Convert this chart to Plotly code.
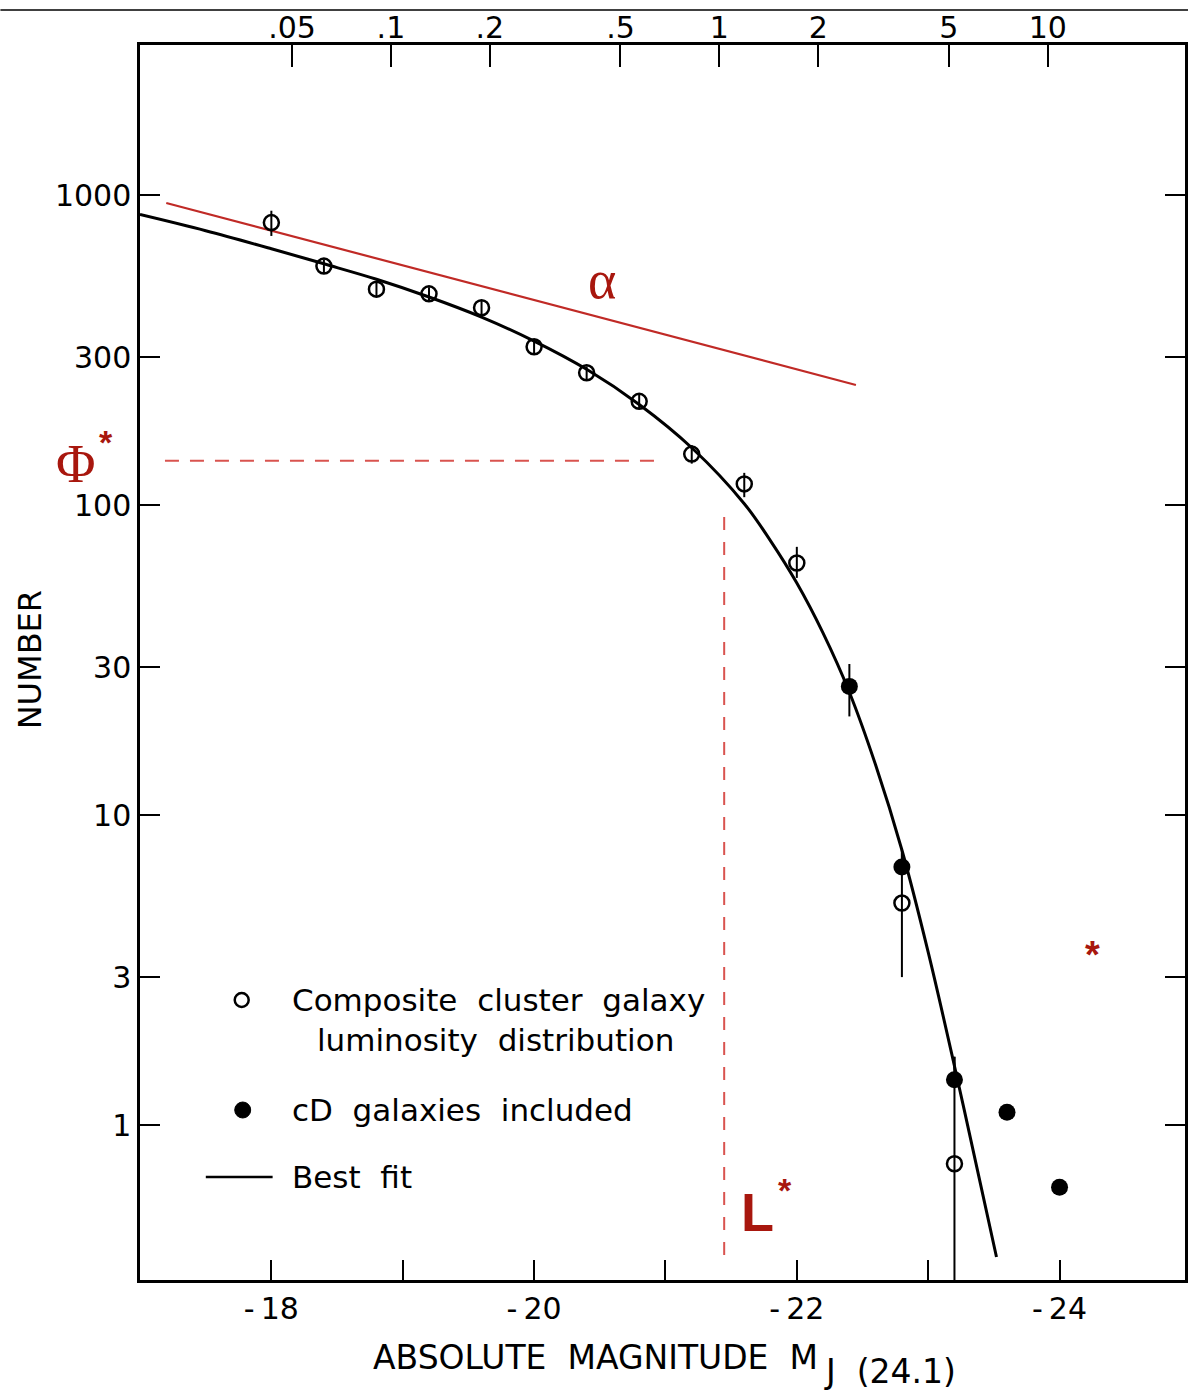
import math
import plotly.graph_objects as go

# ---------------- data ----------------
open_mag = [-18.0, -18.4, -18.8, -19.2, -19.6, -20.0, -20.4, -20.8, -21.2, -21.6, -22.0, -22.8, -23.2]
open_num = [815, 590, 497, 480, 433, 324, 267, 216, 146, 117, 65, 5.2, 0.75]
open_err_plus = [75, 30, 25, 24, 22, 16, 13, 11, 10, 10, 8.3, 2.6, 0.91]
open_err_minus = [77, 30, 25, 24, 22, 16, 13, 11, 10, 11, 6.8, 2.2, 0.65]

filled_mag = [-22.4, -22.8, -23.2, -23.6, -24.0]
filled_num = [26, 6.8, 1.4, 1.1, 0.63]
filled_err_plus = [4.7, 1.0, 0.26, 0, 0]
filled_err_minus = [5.2, 0, 0, 0, 0]

fit_mag = [-17.0, -17.5, -18.0, -18.4, -18.8, -19.2, -19.6, -20.0, -20.4, -20.8, -21.2,
           -21.6, -21.8, -22.0, -22.2, -22.4, -22.6, -22.8, -23.0, -23.2, -23.4, -23.52]
fit_num = [865, 767, 671, 600, 535, 469, 404, 338, 274, 211, 153,
           101, 76.6, 56.0, 38.6, 24.9, 14.5, 7.71, 3.61, 1.55, 0.640, 0.375]

alpha_mag = [-17.2, -22.45]
alpha_num = [943, 244]

phi_star_mag = [-17.19, -20.92]
phi_star_num = [139, 139]

l_star_mag = [-21.447, -21.447]
l_star_num = [91.5, 0.36]

mag_ticks = [-18, -20, -22, -24]
mag_labels = ["-\u200918", "-\u200920", "-\u200922", "-\u200924"]
mag_minor_ticks = [-19, -21, -23]

num_ticks = [1, 3, 10, 30, 100, 300, 1000]
num_labels = ["1", "3", "10", "30", "100", "300", "1000"]

lum_ticks = [0.05, 0.1, 0.2, 0.5, 1, 2, 5, 10]
lum_labels = [".05", ".1", ".2", ".5", "1", "2", "5", "10"]
M_STAR_TOP = -21.41  # magnitude of L/L* = 1 on the top scale

# ---------------- styling ----------------
W, H = 1191, 1392
L, R, T, B = 140, 3, 45, 112
PW, PH = W - L - R, H - T - B
RED = "#a8170e"
RED_LINE = "#c02a26"
RED_DASH = "#d9534f"
FONT = "DejaVu Sans"


def px(x):
    return (x - L) / PW


def py(y):
    return (H - B - y) / PH


lum_tickvals = [M_STAR_TOP - 2.5 * math.log10(v) for v in lum_ticks]

fig = go.Figure()

fig.add_trace(go.Scatter(x=fit_mag, y=fit_num, mode="lines",
                         line=dict(color="black", width=3, shape="spline", smoothing=1.0),
                         hoverinfo="skip", showlegend=False))
fig.add_trace(go.Scatter(x=alpha_mag, y=alpha_num, mode="lines",
                         line=dict(color=RED_LINE, width=2.2),
                         hoverinfo="skip", showlegend=False))
fig.add_trace(go.Scatter(x=phi_star_mag, y=phi_star_num, mode="lines",
                         line=dict(color=RED_DASH, width=2, dash="14px,11px"),
                         hoverinfo="skip", showlegend=False))
fig.add_trace(go.Scatter(x=l_star_mag, y=l_star_num, mode="lines",
                         line=dict(color=RED_DASH, width=2, dash="13px,12px"),
                         hoverinfo="skip", showlegend=False))

fig.add_trace(go.Scatter(
    x=open_mag, y=open_num, mode="markers",
    marker=dict(symbol="circle-open", size=15, color="black", line=dict(width=2.5)),
    error_y=dict(type="data", symmetric=False, array=open_err_plus,
                 arrayminus=open_err_minus, thickness=2, width=0, color="black"),
    showlegend=False))
fig.add_trace(go.Scatter(
    x=filled_mag, y=filled_num, mode="markers",
    marker=dict(symbol="circle", size=17, color="black"),
    error_y=dict(type="data", symmetric=False, array=filled_err_plus,
                 arrayminus=filled_err_minus, thickness=2, width=0, color="black"),
    showlegend=False))

# invisible trace to anchor the top luminosity axis
fig.add_trace(go.Scatter(x=lum_tickvals, y=[num_ticks[0]] * len(lum_tickvals),
                         xaxis="x2", mode="markers", marker=dict(opacity=0),
                         hoverinfo="skip", showlegend=False))

xr = [-17.0, -24.955]
fig.update_layout(
    width=W, height=H,
    margin=dict(l=L, r=R, t=T, b=B),
    paper_bgcolor="white", plot_bgcolor="white",
    font=dict(family=FONT, color="black"),
    xaxis=dict(range=xr, showgrid=False, zeroline=False,
               showline=True, linecolor="black", linewidth=2.5, mirror=True,
               ticks="inside", ticklen=20, tickwidth=2, tickcolor="black",
               tickmode="array", tickvals=mag_ticks, ticktext=mag_labels,
               minor=dict(tickmode="array", tickvals=mag_minor_ticks, ticks="inside",
                          ticklen=20, tickwidth=2, tickcolor="black", showgrid=False),
               tickfont=dict(size=30, family=FONT, color="black")),
    xaxis2=dict(range=xr, overlaying="x", side="top", anchor="y",
                showgrid=False, zeroline=False, showline=False,
                ticks="inside", ticklen=22, tickwidth=2, tickcolor="black",
                tickmode="array", tickvals=lum_tickvals, ticktext=lum_labels,
                tickfont=dict(size=30, family=FONT, color="black")),
    yaxis=dict(type="log", range=[-0.5, 3.484], showgrid=False, zeroline=False,
               showline=True, linecolor="black", linewidth=2.5, mirror="ticks",
               ticks="inside", ticklen=20, tickwidth=2, tickcolor="black",
               tickmode="array", tickvals=num_ticks, ticktext=num_labels,
               tickfont=dict(size=30, family=FONT, color="black")),
)

ann = []
# axis titles
ann.append(dict(x=px(372), y=py(1357), xref="paper", yref="paper", xanchor="left", yanchor="middle",
                text="ABSOLUTE\u00a0\u00a0MAGNITUDE\u00a0\u00a0M", showarrow=False,
                font=dict(size=33, family=FONT, color="black")))
ann.append(dict(x=px(824), y=py(1371), xref="paper", yref="paper", xanchor="left", yanchor="middle",
                text="J\u00a0\u00a0(24.1)", showarrow=False,
                font=dict(size=33, family=FONT, color="black")))
ann.append(dict(x=px(30), y=py(660), xref="paper", yref="paper", xanchor="center", yanchor="middle",
                text="NUMBER", textangle=-90, showarrow=False,
                font=dict(size=32, family=FONT, color="black")))
# legend texts
for txt, x0, y0 in [("Composite\u00a0\u00a0cluster\u00a0\u00a0galaxy", 290, 1000),
                    ("luminosity\u00a0\u00a0distribution", 316, 1040),
                    ("cD\u00a0\u00a0galaxies\u00a0\u00a0included", 290, 1110),
                    ("Best\u00a0\u00a0fit", 290, 1177)]:
    ann.append(dict(x=px(x0), y=py(y0), xref="paper", yref="paper", xanchor="left", yanchor="middle",
                    text=txt, showarrow=False, font=dict(size=31, family=FONT, color="black")))
# red annotations
ann.append(dict(x=px(603), y=py(280), xref="paper", yref="paper", xanchor="center", yanchor="middle",
                text="\u03b1", showarrow=False, font=dict(size=54, family="Liberation Serif", color=RED)))
ann.append(dict(x=px(97), y=py(464), xref="paper", yref="paper", xanchor="right", yanchor="middle",
                text="\u03a6", showarrow=False, font=dict(size=54, family="Liberation Serif", color=RED)))
ann.append(dict(x=px(97), y=py(442), xref="paper", yref="paper", xanchor="left", yanchor="middle",
                text="<b>*</b>", showarrow=False, font=dict(size=34, family="Liberation Sans", color=RED)))
ann.append(dict(x=px(778), y=py(1212), xref="paper", yref="paper", xanchor="right", yanchor="middle",
                text="<b>L</b>", showarrow=False, font=dict(size=54, family="Liberation Sans", color=RED)))
ann.append(dict(x=px(778), y=py(1190), xref="paper", yref="paper", xanchor="left", yanchor="middle",
                text="<b>*</b>", showarrow=False, font=dict(size=34, family="Liberation Sans", color=RED)))
ann.append(dict(x=px(1095), y=py(955), xref="paper", yref="paper", xanchor="center", yanchor="middle",
                text="<b>*</b>", showarrow=False, font=dict(size=38, family="Liberation Sans", color=RED)))
fig.update_layout(annotations=ann)

shapes = []
# page top rule
shapes.append(dict(type="line", xref="paper", yref="paper", x0=px(0), x1=px(W), y0=py(10), y1=py(10),
                   line=dict(color="black", width=1.5)))
# legend symbols
shapes.append(dict(type="circle", xref="paper", yref="paper", x0=px(235), x1=px(249), y0=py(993), y1=py(1007),
                   line=dict(color="black", width=2.5), fillcolor="rgba(0,0,0,0)"))
shapes.append(dict(type="circle", xref="paper", yref="paper", x0=px(235), x1=px(251), y0=py(1102), y1=py(1118),
                   line=dict(color="black", width=1), fillcolor="black"))
shapes.append(dict(type="line", xref="paper", yref="paper", x0=px(206), x1=px(273), y0=py(1177), y1=py(1177),
                   line=dict(color="black", width=2.5)))
fig.update_layout(shapes=shapes)

fig.write_html("out.html")
